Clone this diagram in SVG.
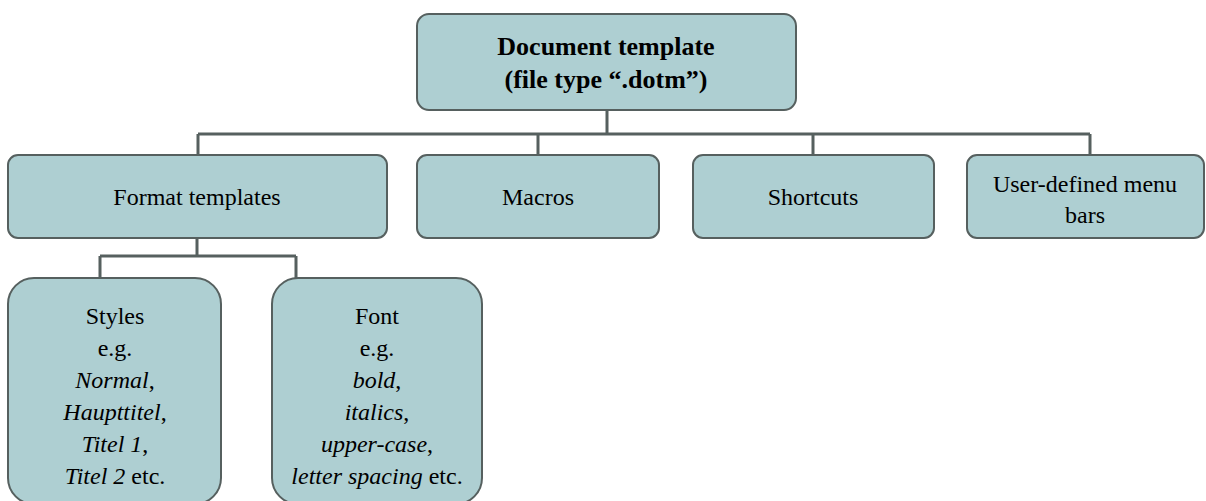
<svg xmlns="http://www.w3.org/2000/svg" width="1206" height="501" viewBox="0 0 1206 501">
<style>
.box{fill:#aecfd2;stroke:#56605f;stroke-width:2}
.ln{fill:none;stroke:#56605f;stroke-width:3}
text{font-family:"Liberation Serif","Times New Roman",serif;font-size:24px;fill:#000;text-anchor:middle}
.b{font-weight:bold;font-size:26px}
.i{font-style:italic}
</style>
<rect width="1206" height="501" fill="#fff"/>
<g id="connectors">
<path class="ln" d="M607 110V134M198 134H1090M198 134V155M538 134V155M813 134V155M1090 134V155"/>
<path class="ln" d="M197 238V256M100 256H296M100 256V278M296 256V278"/>
</g>
<g id="doc">
<rect class="box" x="417" y="14" width="379" height="96" rx="12"/>
<text class="b" x="606" y="55">Document template</text>
<text class="b" x="606" y="88">(file type “.dotm”)</text>
</g>
<g id="format">
<rect class="box" x="8" y="155" width="379" height="83" rx="10"/>
<text x="197" y="205">Format templates</text>
</g>
<g id="macros">
<rect class="box" x="417" y="155" width="242" height="83" rx="10"/>
<text x="538" y="205">Macros</text>
</g>
<g id="shortcuts">
<rect class="box" x="693" y="155" width="241" height="83" rx="10"/>
<text x="813" y="205">Shortcuts</text>
</g>
<g id="menubars">
<rect class="box" x="967" y="155" width="237" height="83" rx="10"/>
<text x="1085" y="192">User-defined menu</text>
<text x="1085" y="223">bars</text>
</g>
<g id="styles">
<rect class="box" x="8" y="278" width="213" height="226" rx="26"/>
<text x="115" y="324">Styles</text>
<text x="115" y="356">e.g.</text>
<text x="115" y="388" class="i">Normal<tspan font-style="normal">,</tspan></text>
<text x="115" y="420" class="i">Haupttitel<tspan font-style="normal">,</tspan></text>
<text x="115" y="452" class="i">Titel 1<tspan font-style="normal">,</tspan></text>
<text x="115" y="484"><tspan font-style="italic">Titel 2</tspan> etc.</text>
</g>
<g id="font">
<rect class="box" x="272" y="278" width="210" height="226" rx="26"/>
<text x="377" y="324">Font</text>
<text x="377" y="356">e.g.</text>
<text x="377" y="388" class="i">bold<tspan font-style="normal">,</tspan></text>
<text x="377" y="420" class="i">italics<tspan font-style="normal">,</tspan></text>
<text x="377" y="452" class="i">upper-case<tspan font-style="normal">,</tspan></text>
<text x="377" y="484"><tspan font-style="italic">letter spacing</tspan> etc.</text>
</g>
</svg>
